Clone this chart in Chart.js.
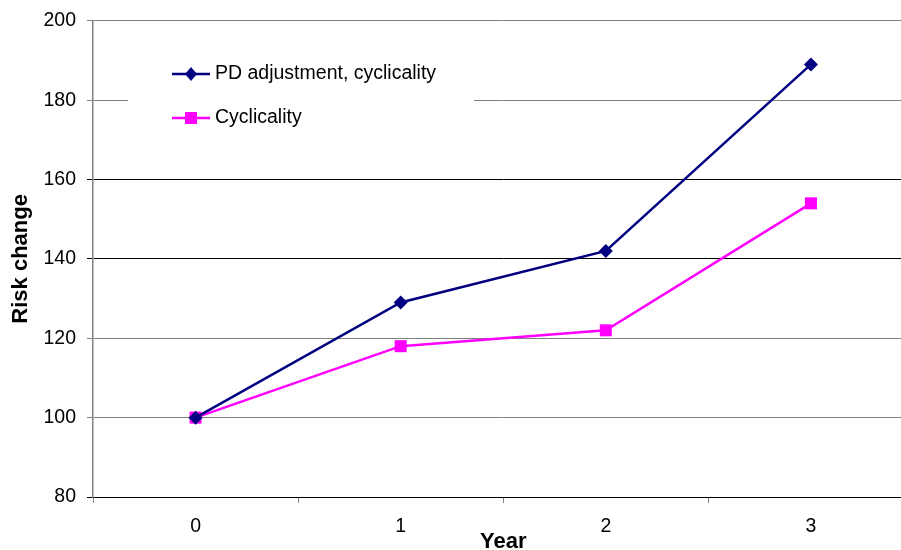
<!DOCTYPE html>
<html>
<head>
<meta charset="utf-8">
<script src="https://cdn.jsdelivr.net/npm/chart.js@4/dist/chart.umd.min.js"></script>
<style>
  html, body { margin: 0; padding: 0; background: #fff; overflow: hidden; }
  #wrap { width: 901px; height: 550px; overflow: hidden; }
</style>
</head>
<body>
<div id="wrap"><canvas id="riskChart" width="922" height="550"></canvas></div>
<script>
// Data
const years = ['0', '1', '2', '3'];
const pdAdjustment = [100, 129, 142, 189];
const cyclicality = [100, 118, 122, 154];
const seriesNames = ['PD adjustment, cyclicality', 'Cyclicality'];

const navy = '#000080';
const magenta = '#FF00FF';
const FONT = '"Liberation Sans", Arial, sans-serif';

// Legend drawn inside the plot, on a white box
const insideLegend = {
    id: 'insideLegend',
    beforeDatasetsDraw(chart) {
        const c = chart.ctx;
        c.save();
        c.fillStyle = '#fff';
        c.fillRect(128, 46, 346, 92);
        const items = [
            { label: seriesNames[0], color: navy, style: 'diamond', y: 74 },
            { label: seriesNames[1], color: magenta, style: 'square', y: 118 }
        ];
        items.forEach(it => {
            c.strokeStyle = it.color;
            c.lineWidth = 2.5;
            c.beginPath();
            c.moveTo(172, it.y);
            c.lineTo(210, it.y);
            c.stroke();
            c.fillStyle = it.color;
            c.beginPath();
            if (it.style === 'diamond') {
                c.moveTo(191, it.y - 7);
                c.lineTo(197, it.y);
                c.lineTo(191, it.y + 7);
                c.lineTo(185, it.y);
                c.closePath();
            } else {
                c.rect(185, it.y - 6, 12, 12);
            }
            c.fill();
            c.fillStyle = '#000';
            c.font = '19.5px ' + FONT;
            c.textBaseline = 'middle';
            c.fillText(it.label, 215, it.y);
        });
        c.restore();
    }
};

const gridColors = { 80: '#000', 100: '#808080', 120: '#808080', 140: '#000', 160: '#000', 180: '#808080', 200: '#808080' };

new Chart(document.getElementById('riskChart'), {
    type: 'line',
    data: {
        labels: years,
        datasets: [
            {
                label: seriesNames[0],
                data: pdAdjustment,
                borderColor: navy,
                backgroundColor: navy,
                borderWidth: 2.5,
                pointStyle: 'rectRot',
                pointRadius: 7,
                pointBorderWidth: 0,
                tension: 0
            },
            {
                label: seriesNames[1],
                data: cyclicality,
                borderColor: magenta,
                backgroundColor: magenta,
                borderWidth: 2.5,
                pointStyle: 'rect',
                pointRadius: 8.5,
                pointBorderWidth: 0,
                tension: 0
            }
        ]
    },
    options: {
        responsive: false,
        animation: false,
        clip: false,
        layout: { padding: { top: 20, right: 0, left: 0, bottom: 0 } },
        plugins: {
            legend: { display: false },
            tooltip: { enabled: false }
        },
        scales: {
            x: {
                offset: true,
                border: { color: '#000', width: 1 },
                grid: { offset: true, drawOnChartArea: false, drawTicks: true, tickLength: 6, color: '#808080' },
                ticks: { color: '#000', font: { family: FONT, size: 19.5 }, padding: 12 },
                title: { display: true, text: 'Year', color: '#000', font: { family: FONT, size: 22, weight: 'bold' }, padding: { top: 0, bottom: -5 } },
                afterFit(scale) { scale.height = 53; }
            },
            y: {
                min: 80,
                max: 200,
                border: { color: '#808080', width: 1.5 },
                grid: {
                    color: ctx => gridColors[ctx.tick && ctx.tick.value] || '#808080',
                    tickLength: 6
                },
                ticks: { stepSize: 20, color: '#000', font: { family: FONT, size: 19.5, lineHeight: 1 }, padding: 11 },
                title: { display: true, text: 'Risk change', color: '#000', font: { family: FONT, size: 22, weight: 'bold' }, padding: { top: 8, bottom: 0 } },
                afterFit(scale) { scale.width = 93; }
            }
        }
    },
    plugins: [insideLegend]
});
</script>
</body>
</html>
